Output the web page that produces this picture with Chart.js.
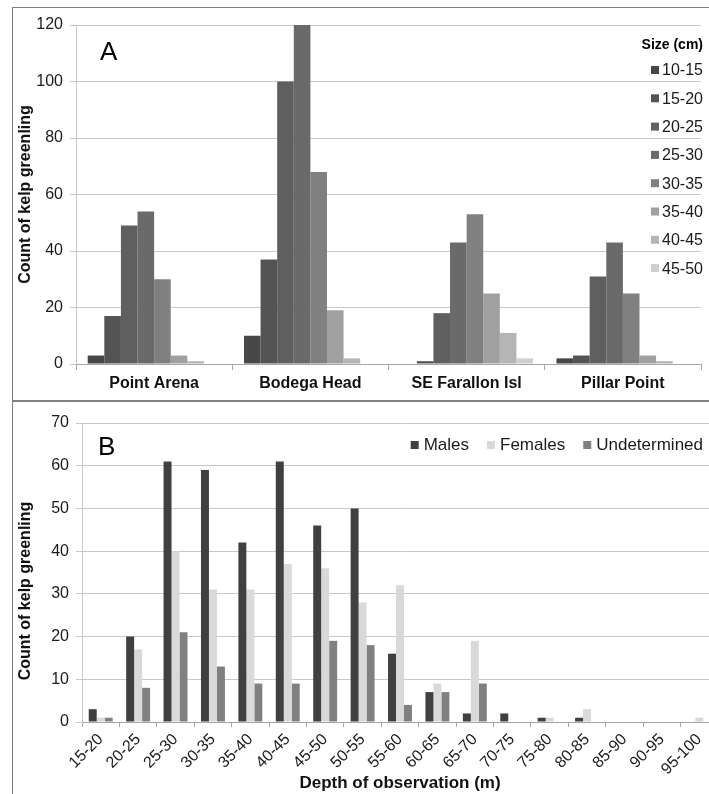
<!DOCTYPE html>
<html lang="en">
<head>
<meta charset="UTF-8">
<title>Kelp greenling counts</title>
<script src="https://cdn.jsdelivr.net/npm/chart.js@4/dist/chart.umd.min.js"></script>
<style>
  html, body { margin: 0; padding: 0; background: #fff; overflow: hidden; }
  body { width: 709px; height: 794px; position: relative; }
  .frame { position: absolute; border: 1px solid #808080; }
  #frameA { left: 12px; top: 7px; width: 720px; height: 392px; }
  #frameB { left: 12px; top: 401px; width: 720px; height: 420px; }
  canvas { position: absolute; }
  #chartA { left: 0; top: 0; }
  #chartB { left: 0; top: 400px; }
</style>
</head>
<body>
<div class="frame" id="frameA"></div>
<div class="frame" id="frameB"></div>
<canvas id="chartA" width="709" height="400"></canvas>
<canvas id="chartB" width="730" height="394"></canvas>

<script>
// ---- panel A: counts by site and size class ----
var sites = ['Point Arena', 'Bodega Head', 'SE Farallon Isl', 'Pillar Point'];
var sizeClasses = ['10-15', '15-20', '20-25', '25-30', '30-35', '35-40', '40-45', '45-50'];
var size10_15 = [3, 10, 0, 2];
var size15_20 = [17, 37, 1, 3];
var size20_25 = [49, 100, 18, 31];
var size25_30 = [54, 120, 43, 43];
var size30_35 = [30, 68, 53, 25];
var size35_40 = [3, 19, 25, 3];
var size40_45 = [1, 2, 11, 1];
var size45_50 = [0, 0, 2, 0];
var sizeColors = ['#474747', '#545454', '#5f5f5f', '#6a6a6a', '#808080', '#a0a0a0', '#b5b5b5', '#cfcfcf'];
var ticksA = [0, 20, 40, 60, 80, 100, 120];

// ---- panel B: counts by depth and sex ----
var depths = ['15-20', '20-25', '25-30', '30-35', '35-40', '40-45', '45-50', '50-55', '55-60',
              '60-65', '65-70', '70-75', '75-80', '80-85', '85-90', '90-95', '95-100'];
var males        = [3, 20, 61, 59, 42, 61, 46, 50, 16, 7, 2, 2, 1, 1, 0, 0, 0];
var females      = [1, 17, 40, 31, 31, 37, 36, 28, 32, 9, 19, 0, 1, 3, 0, 0, 1];
var undetermined = [1, 8, 21, 13, 9, 9, 19, 18, 4, 7, 9, 0, 0, 0, 0, 0, 0];
var sexLabels = ['Males', 'Females', 'Undetermined'];
var sexColors = ['#404040', '#d9d9d9', '#808080'];
var ticksB = [0, 10, 20, 30, 40, 50, 60, 70];

var FONT = "'Liberation Sans', Arial, sans-serif";
Chart.defaults.font.family = FONT;
Chart.defaults.color = '#1a1a1a';

// legend + panel letter for A (drawn over the plot area, like the original)
var overlayA = {
  id: 'overlayA',
  afterDatasetsDraw: function (chart) {
    var ctx = chart.ctx;
    ctx.save();
    ctx.fillStyle = '#000';
    ctx.font = '26px ' + FONT;
    ctx.textAlign = 'left';
    ctx.textBaseline = 'alphabetic';
    ctx.fillText('A', 100, 60);

    ctx.font = 'bold 14px ' + FONT;
    ctx.textAlign = 'right';
    ctx.textBaseline = 'middle';
    ctx.fillText('Size (cm)', 703, 45);

    ctx.font = '16px ' + FONT;
    ctx.textAlign = 'left';
    chart.data.datasets.forEach(function (ds, i) {
      var y = 70 + i * 28.3;
      ctx.fillStyle = ds.backgroundColor;
      ctx.fillRect(651, y - 4, 8, 8);
      ctx.fillStyle = '#1a1a1a';
      ctx.fillText(ds.label, 662, y + 1);
    });
    ctx.restore();
  }
};

// legend, panel letter and y title for B
var overlayB = {
  id: 'overlayB',
  afterDatasetsDraw: function (chart) {
    var ctx = chart.ctx;
    ctx.save();
    ctx.fillStyle = '#000';
    ctx.font = '26px ' + FONT;
    ctx.textBaseline = 'alphabetic';
    ctx.fillText('B', 98, 55);

    ctx.font = '17px ' + FONT;
    ctx.textBaseline = 'middle';
    var x = 703;
    var items = chart.data.datasets.slice().reverse();
    items.forEach(function (ds) {
      var w = ctx.measureText(ds.label).width;
      x -= w;
      ctx.fillStyle = '#1a1a1a';
      ctx.fillText(ds.label, x, 45);
      x -= 13;
      ctx.fillStyle = ds.backgroundColor;
      ctx.fillRect(x, 41, 8, 8);
      x -= 18;
    });

    // y title sits a bit below the middle of the axis in the original
    ctx.translate(26, 191);
    ctx.rotate(-Math.PI / 2);
    ctx.font = 'bold 16px ' + FONT;
    ctx.fillStyle = '#111';
    ctx.textAlign = 'center';
    ctx.fillText('Count of kelp greenling', 0, 0);
    ctx.restore();
  }
};

var setsA = [size10_15, size15_20, size20_25, size25_30, size30_35, size35_40, size40_45, size45_50];
new Chart(document.getElementById('chartA'), {
  type: 'bar',
  data: {
    labels: sites,
    datasets: setsA.map(function (vals, i) {
      return {
        label: sizeClasses[i],
        data: vals,
        backgroundColor: sizeColors[i],
        categoryPercentage: 0.85,
        barPercentage: 1.0
      };
    })
  },
  options: {
    responsive: false,
    animation: false,
    layout: { padding: { left: 12, top: 25, right: 8, bottom: 6 } },
    plugins: { legend: { display: false }, tooltip: { enabled: false } },
    scales: {
      x: {
        grid: { offset: true, drawOnChartArea: false, tickLength: 6, color: '#a6a6a6' },
        border: { color: '#a6a6a6' },
        ticks: { font: { size: 16, weight: 'bold' }, color: '#111', maxRotation: 0, padding: 4 },
        afterFit: function (s) { s.height = 30; }
      },
      y: {
        min: 0, max: 120,
        afterBuildTicks: function (s) { s.ticks = ticksA.map(function (v) { return { value: v }; }); },
        grid: { color: '#c8c8c8', tickLength: 6 },
        border: { color: '#c8c8c8' },
        ticks: { font: { size: 16 }, color: '#1a1a1a', padding: 7 },
        title: { display: true, text: 'Count of kelp greenling', font: { size: 16, weight: 'bold' }, color: '#111', padding: { top: 4, bottom: 0 } },
        afterFit: function (s) { s.width = 64; }
      }
    }
  },
  plugins: [overlayA]
});

var setsB = [males, females, undetermined];
new Chart(document.getElementById('chartB'), {
  type: 'bar',
  data: {
    labels: depths,
    datasets: setsB.map(function (vals, i) {
      return {
        label: sexLabels[i],
        data: vals,
        backgroundColor: sexColors[i],
        categoryPercentage: 0.64,
        barPercentage: 1.0
      };
    })
  },
  options: {
    responsive: false,
    animation: false,
    layout: { padding: { left: 12, top: 23, right: 12, bottom: 0 } },
    plugins: { legend: { display: false }, tooltip: { enabled: false } },
    scales: {
      x: {
        grid: { offset: true, drawOnChartArea: false, tickLength: 5, color: '#a6a6a6' },
        border: { color: '#a6a6a6' },
        ticks: { font: { size: 16 }, color: '#1a1a1a', minRotation: 45, maxRotation: 45, padding: 3 },
        title: { display: true, text: 'Depth of observation (m)', font: { size: 17, weight: 'bold' }, color: '#111', padding: { top: 0, bottom: 0 } },
        afterFit: function (s) { s.height = 72; }
      },
      y: {
        min: 0, max: 70,
        afterBuildTicks: function (s) { s.ticks = ticksB.map(function (v) { return { value: v }; }); },
        grid: { color: '#c8c8c8', tickLength: 6 },
        border: { color: '#c8c8c8' },
        ticks: { font: { size: 16 }, color: '#1a1a1a', padding: 7 },
        afterFit: function (s) { s.width = 70; }
      }
    }
  },
  plugins: [overlayB]
});
</script>
</body>
</html>
